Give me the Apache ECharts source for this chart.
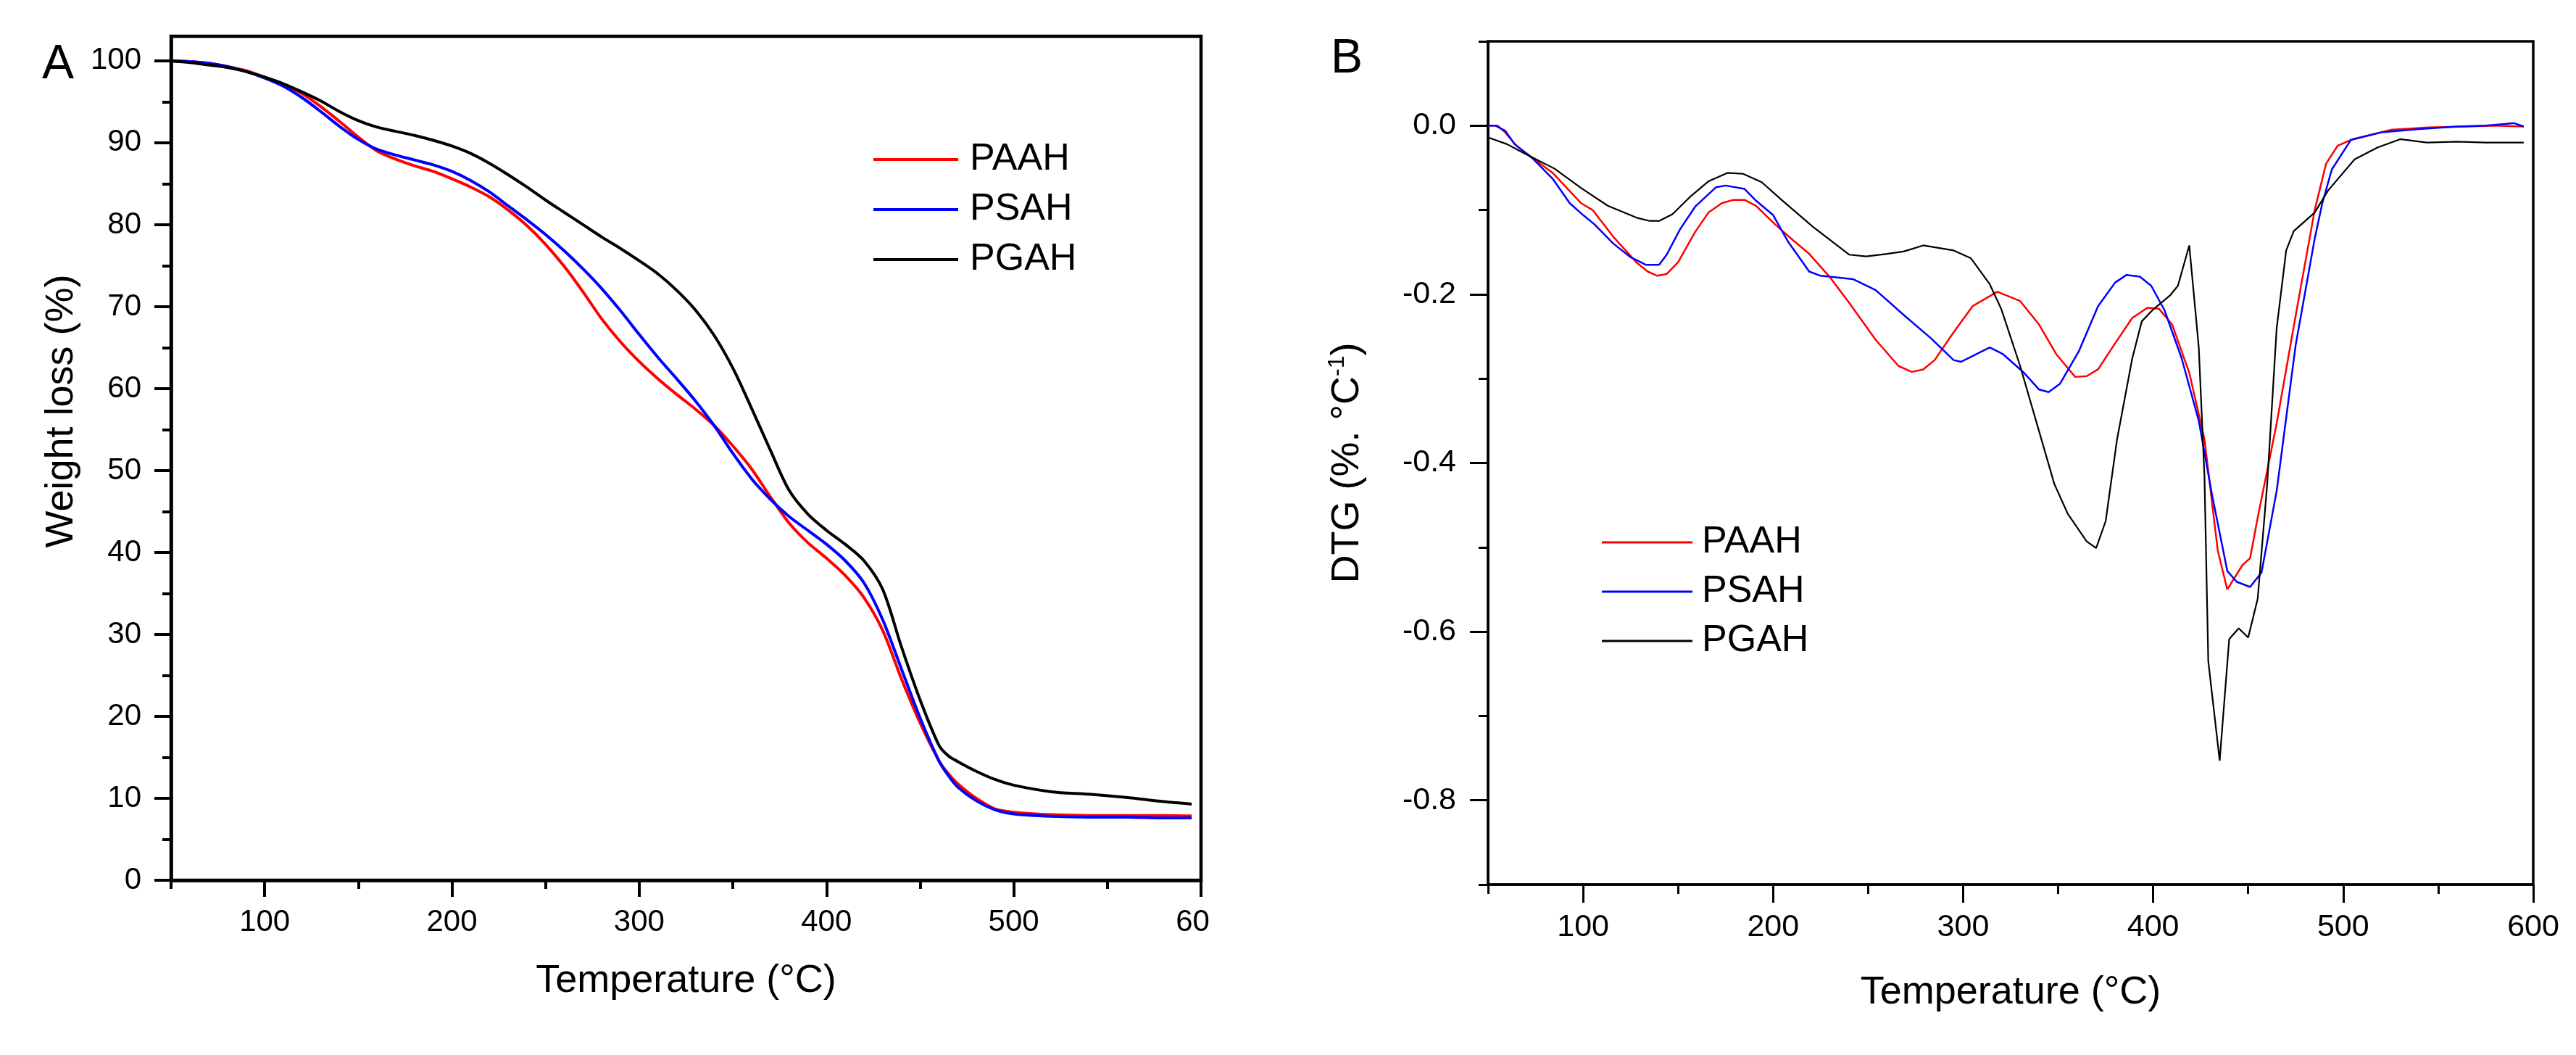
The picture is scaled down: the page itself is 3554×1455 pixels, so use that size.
<!DOCTYPE html>
<html>
<head>
<meta charset="utf-8">
<title>TG / DTG</title>
<script src="https://cdn.jsdelivr.net/npm/echarts@6/dist/echarts.min.js"></script>
<style>
  html, body { margin: 0; padding: 0; background: #fff; }
  #chart { width: 3554px; height: 1455px; }
</style>
</head>
<body>
<div id="chart"></div>
<script>
// ---- A: TG curves, weight loss (%) vs temperature (°C)
const tgTemp = [50, 60, 70, 80, 90, 100, 110, 120, 130, 140, 150, 160, 170, 180, 190, 200, 210, 220, 230, 240,
  250, 260, 270, 280, 290, 300, 310, 320, 330, 340, 350, 360, 370, 380, 390, 400, 410, 420, 430, 440,
  450, 460, 465, 470, 480, 490, 500, 520, 540, 560, 580, 595];
const tgPAAH = [100, 99.9, 99.7, 99.3, 98.8, 98.0, 97.1, 96.0, 94.4, 92.6, 90.7, 89.0, 88.0, 87.2, 86.5, 85.6, 84.6, 83.4, 81.8, 79.9,
  77.6, 74.9, 71.8, 68.5, 65.7, 63.3, 61.2, 59.3, 57.5, 55.5, 53.0, 50.2, 46.8, 43.6, 41.2, 39.3, 37.2, 34.5, 30.5, 24.6,
  19.2, 14.6, 13.0, 11.8, 10.0, 8.7, 8.3, 8.0, 7.9, 7.9, 7.9, 7.85];
const tgPSAH = [100, 99.9, 99.7, 99.3, 98.7, 97.9, 96.9, 95.5, 93.8, 92.0, 90.4, 89.2, 88.5, 87.9, 87.3, 86.5, 85.4, 84.0, 82.3, 80.6,
  78.8, 76.8, 74.6, 72.2, 69.5, 66.6, 63.8, 61.2, 58.5, 55.5, 52.1, 49.0, 46.5, 44.4, 42.7, 41.0, 39.0, 36.3, 31.8, 25.8,
  19.8, 14.6, 12.8, 11.4, 9.7, 8.6, 8.1, 7.8, 7.7, 7.7, 7.6, 7.6];
const tgPGAH = [100, 99.8, 99.5, 99.2, 98.7, 98.0, 97.2, 96.2, 95.1, 93.8, 92.7, 91.9, 91.4, 90.9, 90.3, 89.6, 88.7, 87.5, 86.1, 84.6,
  83.0, 81.5, 80.0, 78.5, 77.1, 75.6, 74.0, 72.0, 69.6, 66.5, 62.5, 57.6, 52.5, 47.6, 44.7, 42.7, 41.0, 39.0, 35.5, 28.5,
  22.0, 16.5, 15.2, 14.5, 13.3, 12.3, 11.6, 10.8, 10.5, 10.1, 9.6, 9.3];

// ---- B: DTG curves (%.°C-1) vs temperature (°C)
const dtgTempPAAH = [50, 55, 59, 65, 74, 84, 99, 105, 116, 128, 134, 139, 144, 150, 159, 166, 173, 179, 185, 191,
  201, 210, 219, 230, 240, 254, 266, 273, 279, 285, 295, 305, 318, 330, 340, 349, 359, 365, 371, 380,
  389, 397, 403, 410, 419, 427, 434, 439, 447, 451, 455, 465, 475, 485, 491, 497, 505, 525, 545, 565, 580, 595];
const dtgPAAH = [0, 0, -0.008, -0.024, -0.039, -0.056, -0.092, -0.100, -0.132, -0.162, -0.173, -0.178, -0.176, -0.162, -0.126, -0.103, -0.092, -0.088, -0.088, -0.095,
  -0.117, -0.135, -0.152, -0.180, -0.210, -0.254, -0.285, -0.292, -0.289, -0.278, -0.245, -0.214, -0.197, -0.208, -0.236, -0.271, -0.298, -0.297, -0.289, -0.258,
  -0.228, -0.216, -0.217, -0.236, -0.293, -0.372, -0.504, -0.550, -0.521, -0.513, -0.465, -0.353, -0.225, -0.100, -0.045, -0.024, -0.016, -0.005, -0.002, -0.001, 0.0, -0.001];
const dtgTempPSAH = [50, 54, 59, 64, 74, 84, 93, 100, 106, 116, 125, 133, 140, 144, 151, 159, 170, 175, 185, 191,
  200, 208, 219, 225, 242, 254, 269, 283, 295, 299, 314, 321, 332, 340, 345, 351, 361, 371, 380, 386,
  393, 399, 406, 415, 424, 431, 439, 444, 451, 457, 465, 475, 485, 489, 494, 504, 520, 540, 560, 575, 585, 590, 595];
const dtgPSAH = [0, 0, -0.006, -0.022, -0.040, -0.063, -0.092, -0.106, -0.117, -0.140, -0.156, -0.165, -0.165, -0.153, -0.123, -0.096, -0.073, -0.071, -0.075, -0.089,
  -0.106, -0.138, -0.173, -0.178, -0.182, -0.195, -0.225, -0.252, -0.278, -0.280, -0.263, -0.271, -0.293, -0.313, -0.316, -0.306, -0.267, -0.214, -0.186, -0.177,
  -0.179, -0.190, -0.219, -0.276, -0.350, -0.438, -0.528, -0.541, -0.547, -0.530, -0.433, -0.260, -0.134, -0.092, -0.052, -0.017, -0.008, -0.004, -0.001, 0.0, 0.002, 0.003, -0.001];
const dtgTempPGAH = [50, 60, 70, 85, 99, 113, 128, 135, 140, 147, 157, 166, 176, 184, 194, 205, 221, 240, 249, 260,
  269, 279, 295, 304, 314, 320, 330, 339, 348, 355, 365, 370, 375, 381, 389, 394, 400, 409, 413, 419,
  424, 427, 429, 435, 440, 445, 450, 455, 460, 465, 470, 474, 485, 492, 506, 518, 530, 544, 560, 575, 595];
const dtgPGAH = [-0.014, -0.022, -0.034, -0.051, -0.074, -0.095, -0.109, -0.113, -0.113, -0.105, -0.083, -0.066, -0.056, -0.057, -0.067, -0.089, -0.120, -0.153, -0.155, -0.152,
  -0.149, -0.142, -0.148, -0.157, -0.188, -0.217, -0.285, -0.355, -0.425, -0.460, -0.493, -0.501, -0.469, -0.372, -0.276, -0.232, -0.218, -0.201, -0.190, -0.142,
  -0.263, -0.416, -0.635, -0.753, -0.609, -0.596, -0.607, -0.561, -0.425, -0.240, -0.148, -0.125, -0.103, -0.077, -0.040, -0.026, -0.016, -0.020, -0.019, -0.020, -0.020];

// ---- ticks and labels
const tgXTicks = [100, 200, 300, 400, 500, 600];
const tgXLabels = ['100', '200', '300', '400', '500', '60']; // last label is cut to "60" in the source
const tgXMinor = [50, 150, 250, 350, 450, 550];
const tgYTicks = [0, 10, 20, 30, 40, 50, 60, 70, 80, 90, 100];
const tgYLabels = ['0', '10', '20', '30', '40', '50', '60', '70', '80', '90', '100'];
const tgYMinor = [5, 15, 25, 35, 45, 55, 65, 75, 85, 95];

const dtgXTicks = [100, 200, 300, 400, 500, 600];
const dtgXLabels = ['100', '200', '300', '400', '500', '600'];
const dtgXMinor = [50, 150, 250, 350, 450, 550];
const dtgYTicks = [-0.8, -0.6, -0.4, -0.2, 0];
const dtgYLabels = ['-0.8', '-0.6', '-0.4', '-0.2', '0.0'];
const dtgYMinor = [-0.9, -0.7, -0.5, -0.3, -0.1, 0.1];

const seriesNames = ['PAAH', 'PSAH', 'PGAH'];
const seriesColors = ['#ff0000', '#0000ff', '#000000'];

const FONT = '"Liberation Sans", Arial, Helvetica, sans-serif';

function pairs(xs, ys) {
  return xs.map((x, i) => [x, ys[i]]);
}

function labelOf(ticks, labels) {
  return v => {
    const i = ticks.findIndex(t => Math.abs(t - v) < 1e-9);
    return i >= 0 ? labels[i] : '';
  };
}

// an extra axis that only draws the short (minor) ticks
function minorAxis(gridIndex, min, max, position, values, length, width) {
  return {
    type: 'value', gridIndex, min, max, position,
    axisLine: {show: false, onZero: false},
    axisTick: {show: true, customValues: values, length, lineStyle: {color: '#000', width}},
    axisLabel: {show: false},
    splitLine: {show: false}
  };
}

const chart = echarts.init(document.getElementById('chart'), null, {renderer: 'canvas'});

const option = {
  backgroundColor: '#ffffff',
  animation: false,
  textStyle: {fontFamily: FONT},
  graphic: [
    {type: 'text', left: 58, top: 57, style: {text: 'A', font: '66px ' + FONT, fill: '#000'}},
    {type: 'text', left: 1836, top: 49, style: {text: 'B', font: '66px ' + FONT, fill: '#000'}}
  ],
  grid: [
    {left: 236, top: 50, width: 1421, height: 1164, show: true, borderColor: '#000', borderWidth: 4.5},
    {left: 2053, top: 57, width: 1442, height: 1163, show: true, borderColor: '#000', borderWidth: 3.5}
  ],
  legend: [
    {
      data: seriesNames, orient: 'vertical', left: 1205, top: 194, padding: 0,
      itemGap: 17, itemWidth: 117, itemHeight: 4, icon: 'rect', selectedMode: false,
      itemStyle: {borderWidth: 0},
      textStyle: {fontFamily: FONT, fontSize: 52, lineHeight: 52, color: '#000', padding: [0, 0, 0, 11]}
    },
    {
      data: seriesNames, orient: 'vertical', left: 2210, top: 722, padding: 0,
      itemGap: 16, itemWidth: 125, itemHeight: 3, icon: 'rect', selectedMode: false,
      itemStyle: {borderWidth: 0},
      textStyle: {fontFamily: FONT, fontSize: 52, lineHeight: 52, color: '#000', padding: [0, 0, 0, 8]}
    }
  ],
  xAxis: [
    {
      type: 'value', gridIndex: 0, min: 50, max: 600, position: 'bottom',
      name: 'Temperature (°C)', nameLocation: 'middle', nameGap: 112,
      nameTextStyle: {fontFamily: FONT, fontSize: 54, color: '#000'},
      axisLine: {onZero: false, lineStyle: {color: '#000', width: 4.5}},
      axisTick: {customValues: tgXTicks, length: 23, lineStyle: {color: '#000', width: 4}},
      axisLabel: {
        customValues: tgXTicks, margin: 37, fontFamily: FONT, fontSize: 42, color: '#000',
        formatter: v => (v === 600 ? '{cut|' + labelOf(tgXTicks, tgXLabels)(v) + '}' : labelOf(tgXTicks, tgXLabels)(v)),
        rich: {cut: {fontFamily: FONT, fontSize: 42, color: '#000', padding: [0, 23, 0, 0]}}
      },
      splitLine: {show: false}
    },
    minorAxis(0, 50, 600, 'bottom', tgXMinor, 12, 4),
    {
      type: 'value', gridIndex: 1, min: 50, max: 600, position: 'bottom',
      name: 'Temperature (°C)', nameLocation: 'middle', nameGap: 122,
      nameTextStyle: {fontFamily: FONT, fontSize: 54, color: '#000'},
      axisLine: {onZero: false, lineStyle: {color: '#000', width: 3.5}},
      axisTick: {customValues: dtgXTicks, length: 25, lineStyle: {color: '#000', width: 3}},
      axisLabel: {
        customValues: dtgXTicks, margin: 38, fontFamily: FONT, fontSize: 43, color: '#000',
        formatter: labelOf(dtgXTicks, dtgXLabels)
      },
      splitLine: {show: false}
    },
    minorAxis(1, 50, 600, 'bottom', dtgXMinor, 13, 3)
  ],
  yAxis: [
    {
      type: 'value', gridIndex: 0, min: 0, max: 103, position: 'left',
      name: 'Weight loss (%)', nameLocation: 'middle', nameRotate: 90, nameGap: 124,
      // left padding pushes the rotated title a little above the plot centre, as in the source
      nameTextStyle: {fontFamily: FONT, fontSize: 54, color: '#000', padding: [0, 0, 0, 130]},
      axisLine: {onZero: false, lineStyle: {color: '#000', width: 4.5}},
      axisTick: {customValues: tgYTicks, length: 23, lineStyle: {color: '#000', width: 4}},
      axisLabel: {
        customValues: tgYTicks, margin: 41, fontFamily: FONT, fontSize: 42, color: '#000',
        formatter: labelOf(tgYTicks, tgYLabels)
      },
      splitLine: {show: false}
    },
    minorAxis(0, 0, 103, 'left', tgYMinor, 12, 4),
    {
      type: 'value', gridIndex: 1, min: -0.9, max: 0.1, position: 'left',
      name: '{n|DTG (%. °C}{s|-1}{n|)}', nameLocation: 'middle', nameRotate: 90, nameGap: 164,
      nameTextStyle: {
        fontFamily: FONT, fontSize: 54, color: '#000',
        rich: {
          n: {fontFamily: FONT, fontSize: 54, lineHeight: 60, color: '#000'},
          s: {fontFamily: FONT, fontSize: 32, lineHeight: 32, verticalAlign: 'top', color: '#000'}
        }
      },
      axisLine: {onZero: false, lineStyle: {color: '#000', width: 3.5}},
      axisTick: {customValues: dtgYTicks, length: 25, lineStyle: {color: '#000', width: 3}},
      axisLabel: {
        customValues: dtgYTicks, margin: 44, fontFamily: FONT, fontSize: 43, color: '#000',
        formatter: labelOf(dtgYTicks, dtgYLabels)
      },
      splitLine: {show: false}
    },
    minorAxis(1, -0.9, 0.1, 'left', dtgYMinor, 13, 3)
  ],
  series: [
    // A
    {name: 'PAAH', type: 'line', xAxisIndex: 0, yAxisIndex: 0, data: pairs(tgTemp, tgPAAH),
      symbol: 'none', smooth: 0.3, color: seriesColors[0], lineStyle: {width: 4}},
    {name: 'PSAH', type: 'line', xAxisIndex: 0, yAxisIndex: 0, data: pairs(tgTemp, tgPSAH),
      symbol: 'none', smooth: 0.3, color: seriesColors[1], lineStyle: {width: 4}},
    {name: 'PGAH', type: 'line', xAxisIndex: 0, yAxisIndex: 0, data: pairs(tgTemp, tgPGAH),
      symbol: 'none', smooth: 0.3, color: seriesColors[2], lineStyle: {width: 4}},
    // B
    {name: 'PAAH', type: 'line', xAxisIndex: 2, yAxisIndex: 2, data: pairs(dtgTempPAAH, dtgPAAH),
      symbol: 'none', color: seriesColors[0], lineStyle: {width: 2.5}},
    {name: 'PSAH', type: 'line', xAxisIndex: 2, yAxisIndex: 2, data: pairs(dtgTempPSAH, dtgPSAH),
      symbol: 'none', color: seriesColors[1], lineStyle: {width: 2.5}},
    {name: 'PGAH', type: 'line', xAxisIndex: 2, yAxisIndex: 2, data: pairs(dtgTempPGAH, dtgPGAH),
      symbol: 'none', color: seriesColors[2], lineStyle: {width: 2.2}}
  ]
};

chart.setOption(option);
</script>
</body>
</html>
